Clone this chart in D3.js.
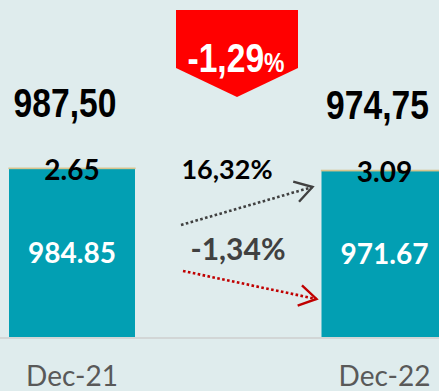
<!DOCTYPE html>
<html>
<head>
<meta charset="utf-8">
<script src="https://cdn.jsdelivr.net/npm/d3@7"></script>
<style>
  html, body { margin: 0; padding: 0; background: #dfeced; overflow: hidden; }
  svg { display: block; }
</style>
</head>
<body>
<svg id="chart" width="439" height="391"></svg>
<script>
// Period labels
const periods = ["Dec-21", "Dec-22"];
// Stacked series: main block and the small top block
const mainValues = [984.85, 971.67];
const topValues = [2.65, 3.09];
// Totals per period (shown with a comma decimal separator)
const totals = [987.50, 974.75];
// Change of each series between the periods, in percent
const seriesChange = [16.32, -1.34];
// Change of the total between the periods, in percent
const totalChange = -1.29;

const W = 439, H = 391;
const svg = d3.select("#chart");

const commaLocale = d3.formatLocale({ decimal: ",", thousands: ".", grouping: [3], currency: ["", ""], minus: "-" });
const fmtComma2 = commaLocale.format(".2f");
const fmtDot2 = d3.format(".2f");

const x = d3.scaleBand()
  .domain(periods)
  .range([9, 447.5])
  .paddingInner(0.5968)
  .paddingOuter(0);

const y = d3.scaleLinear().domain([0, 1000]).range([337, 166]);

const teal = "#029fb3";
const tan = "#d6c48e";

// main block
svg.append("g").selectAll("rect")
  .data(periods)
  .join("rect")
  .attr("x", d => x(d))
  .attr("width", x.bandwidth())
  .attr("y", (d, i) => y(mainValues[i]))
  .attr("height", (d, i) => y(0) - y(mainValues[i]))
  .attr("fill", teal);

// top block (thin cap)
svg.append("g").selectAll("rect")
  .data(periods)
  .join("rect")
  .attr("x", d => x(d))
  .attr("width", x.bandwidth())
  .attr("y", (d, i) => y(mainValues[i] + topValues[i]))
  .attr("height", (d, i) => y(mainValues[i]) - y(mainValues[i] + topValues[i]))
  .attr("fill", tan)
  .attr("stroke", tan)
  .attr("stroke-width", 1.2);

// baseline
svg.append("line")
  .attr("x1", 0).attr("x2", W)
  .attr("y1", y(0) + 1).attr("y2", y(0) + 1)
  .attr("stroke", "#d2d6d6")
  .attr("stroke-width", 2);

const calibriLike = "Lato, 'Open Sans', sans-serif";
const boldSans = "'Liberation Sans', Arial, sans-serif";
const narrow = 0.82; // horizontal squeeze for the condensed headline figures

// category labels
svg.append("g").selectAll("text")
  .data(periods)
  .join("text")
  .attr("x", d => x(d) + x.bandwidth() / 2)
  .attr("y", 386)
  .attr("text-anchor", "middle")
  .attr("font-family", calibriLike)
  .attr("font-size", 28)
  .attr("fill", "#595959")
  .text(d => d);

// value of the main block, centred inside it
svg.append("g").selectAll("text")
  .data(periods)
  .join("text")
  .attr("x", d => x(d) + x.bandwidth() / 2)
  .attr("y", (d, i) => (y(0) + y(mainValues[i])) / 2 + 10)
  .attr("text-anchor", "middle")
  .attr("font-family", calibriLike)
  .attr("font-weight", 700)
  .attr("font-size", 28)
  .attr("fill", "#ffffff")
  .text((d, i) => fmtDot2(mainValues[i]));

// value of the top block, sitting on the bar top
svg.append("g").selectAll("text")
  .data(periods)
  .join("text")
  .attr("x", d => x(d) + x.bandwidth() / 2)
  .attr("y", (d, i) => y(mainValues[i] + topValues[i]) + 12)
  .attr("text-anchor", "middle")
  .attr("font-family", calibriLike)
  .attr("font-weight", 700)
  .attr("font-size", 28)
  .attr("fill", "#000000")
  .text((d, i) => fmtDot2(topValues[i]));

// totals above the bars (condensed bold)
svg.append("g").selectAll("g")
  .data(periods)
  .join("g")
  .attr("transform", (d, i) => `translate(${x(d) + x.bandwidth() / 2 - 7},${y(totals[i]) - 51}) scale(${narrow},1)`)
  .append("text")
  .attr("text-anchor", "middle")
  .attr("font-family", boldSans)
  .attr("font-weight", 700)
  .attr("font-size", 41)
  .attr("fill", "#000000")
  .text((d, i) => fmtComma2(totals[i]));

// change banner (down-pointing tag)
const bx0 = 176, bx1 = 298, bTop = 10, bSide = 68, bTip = 97;
svg.append("path")
  .attr("d", `M${bx0},${bTop}L${bx1},${bTop}L${bx1},${bSide}L${(bx0 + bx1) / 2},${bTip}L${bx0},${bSide}Z`)
  .attr("fill", "#ff0000");

const bannerText = svg.append("g")
  .attr("transform", `translate(${(bx0 + bx1) / 2 - 1},72) scale(${narrow},1)`)
  .append("text")
  .attr("text-anchor", "middle")
  .attr("font-family", boldSans)
  .attr("font-weight", 700)
  .attr("fill", "#ffffff");
bannerText.append("tspan").attr("font-size", 41).text(fmtComma2(totalChange));
bannerText.append("tspan").attr("font-size", 28).text("%");

// series change arrows
const leftEdge = x(periods[0]) + x.bandwidth();
const rightEdge = x(periods[1]);

function arrow(x1, y1, x2, y2, color) {
  const g = svg.append("g");
  g.append("line")
    .attr("x1", x1).attr("y1", y1).attr("x2", x2).attr("y2", y2)
    .attr("stroke", color).attr("stroke-width", 2.6)
    .attr("stroke-dasharray", "2.6,2.4");
  const ang = Math.atan2(y2 - y1, x2 - x1);
  const len = 20, spread = 0.55;
  const pts = [ang + Math.PI - spread, ang + Math.PI + spread].map(a => [x2 + len * Math.cos(a), y2 + len * Math.sin(a)]);
  g.append("path")
    .attr("d", `M${pts[0][0]},${pts[0][1]}L${x2},${y2}L${pts[1][0]},${pts[1][1]}`)
    .attr("fill", "none").attr("stroke", color).attr("stroke-width", 2.4);
}

arrow(leftEdge + 46, 225, rightEdge - 9, 187, "#404040");
arrow(leftEdge + 48, 271, rightEdge - 5, 299, "#c00000");

const pctFmt = v => fmtComma2(v) + "%";

svg.append("text")
  .attr("x", 227).attr("y", 179)
  .attr("text-anchor", "middle")
  .attr("font-family", calibriLike)
  .attr("font-weight", 700)
  .attr("font-size", 27)
  .attr("fill", "#000000")
  .text(pctFmt(seriesChange[0]));

svg.append("text")
  .attr("x", 238).attr("y", 260)
  .attr("text-anchor", "middle")
  .attr("font-family", calibriLike)
  .attr("font-weight", 700)
  .attr("font-size", 30)
  .attr("fill", "#404040")
  .text(pctFmt(seriesChange[1]));
</script>
</body>
</html>
